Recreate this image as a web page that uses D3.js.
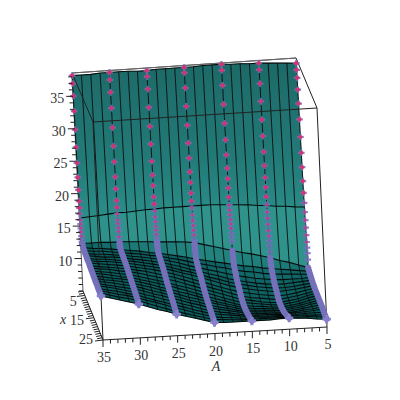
<!DOCTYPE html>
<html>
<head>
<meta charset="utf-8">
<style>
  html, body { margin: 0; padding: 0; background: #fff; }
  text { font-family: "Liberation Serif", serif; fill: #333; }
</style>
<script src="https://cdn.jsdelivr.net/npm/d3@7"></script>
</head>
<body>
<div id="chart"></div>
<script>
// Surface grid lines
const aGrid = [35, 33.75, 32.5, 31.25, 30, 28.75, 27.5, 26.25, 25, 23.75, 22.5, 21.25, 20, 18.75, 17.5, 16.25, 15, 13.75, 12.5, 11.25, 10, 8.75, 7.5, 6.25, 5];
const xGrid = [3, 4, 5, 6, 7, 8, 9, 10, 11, 12, 13, 14, 15, 16, 17, 18, 19, 20, 21, 22, 23, 24, 25];

// Surface heights, one row per xGrid value, one column per aGrid value
const zRows = [
  [38.2,38.2,38.2,38.3,38.3,38.3,38.3,38.2,38.2,38.3,38.3,38.3,38.3,38.3,38.4,38.4,38.4,38.3,38.3,38.2,38.2,38.1,38,37.9,37.8],
  [16.6,16.7,16.8,16.9,17,17,17.1,17.2,17.2,17.3,17.3,17.3,17.3,17.3,17.3,17.2,17.1,17,16.9,16.7,16.6,16.4,16.3,16.1,16],
  [13,13,13,12.9,12.9,12.8,12.7,12.6,12.5,12.4,12.3,12.2,12,11.6,11.2,10.8,10.4,10,9.7,9.3,8.9,8.4,8,7.5,7],
  [12.7,12.5,12.4,12.2,12,11.8,11.6,11.3,11.1,10.8,10.5,10.2,9.8,9.5,9.2,8.9,8.6,8.3,8.1,7.8,7.6,7.4,7.2,7,6.8],
  [12.6,12.4,12.3,12.1,11.9,11.7,11.5,11.2,11,10.6,10.3,9.9,9.5,9.2,8.8,8.5,8.1,7.8,7.6,7.3,7.1,7,6.9,6.8,6.7],
  [12.5,12.3,12.2,12,11.85,11.6,11.4,11.1,10.85,10.5,10.1,9.6,9.2,8.8,8.4,8,7.6,7.3,7,6.8,6.6,6.5,6.5,6.5,6.6],
  [12.5,12.3,12.1,12,11.8,11.5,11.3,11,10.7,10.3,9.9,9.4,9,8.5,8.1,7.6,7.2,6.9,6.6,6.4,6.2,6.2,6.3,6.4,6.5],
  [12.4,12.2,12.1,11.9,11.7,11.5,11.2,10.9,10.6,10.2,9.7,9.3,8.8,8.3,7.9,7.4,7,6.7,6.4,6.2,6,6,6.1,6.3,6.4],
  [12.4,12.2,12.1,11.9,11.7,11.4,11.1,10.8,10.5,10.1,9.6,9.2,8.7,8.2,7.7,7.2,6.8,6.5,6.2,6,5.8,5.9,6,6.2,6.4],
  [12.4,12.2,12,11.8,11.6,11.3,11,10.7,10.3,9.9,9.4,8.9,8.4,7.9,7.4,6.9,6.5,6.2,5.9,5.7,5.5,5.6,5.8,6.1,6.3],
  [12.3,12.1,11.9,11.7,11.5,11.2,10.9,10.5,10.1,9.7,9.2,8.7,8.2,7.7,7.2,6.7,6.2,5.9,5.7,5.5,5.3,5.5,5.7,6,6.3],
  [12.3,12.1,11.9,11.6,11.4,11.1,10.7,10.3,9.9,9.5,9,8.5,8,7.5,7,6.5,6,5.8,5.5,5.3,5.2,5.4,5.6,6,6.3],
  [12.2,12,11.8,11.5,11.3,10.9,10.5,10.1,9.7,9.2,8.8,8.3,7.8,7.3,6.8,6.3,5.9,5.7,5.5,5.3,5.2,5.4,5.6,6,6.3],
  [12.2,12,11.7,11.4,11.2,10.8,10.4,10,9.6,9.1,8.6,8.1,7.6,7.1,6.7,6.2,5.8,5.6,5.5,5.3,5.2,5.4,5.6,6,6.3],
  [12.1,11.9,11.6,11.4,11.1,10.7,10.3,9.8,9.4,8.9,8.5,8,7.5,7,6.6,6.2,5.8,5.6,5.5,5.4,5.3,5.5,5.7,6,6.3],
  [12.1,11.8,11.6,11.3,11,10.6,10.2,9.7,9.3,8.8,8.3,7.9,7.4,7,6.6,6.2,5.8,5.7,5.6,5.5,5.4,5.6,5.8,6.1,6.3],
  [12,11.8,11.5,11.2,10.9,10.5,10,9.6,9.1,8.7,8.2,7.8,7.3,6.9,6.6,6.2,5.9,5.8,5.7,5.6,5.5,5.7,5.9,6.1,6.3],
  [12,11.7,11.4,11.1,10.8,10.4,9.9,9.5,9,8.6,8.1,7.7,7.2,6.9,6.6,6.3,6,5.9,5.8,5.8,5.7,5.8,6,6.1,6.3],
  [12,11.7,11.4,11,10.7,10.2,9.8,9.3,8.9,8.4,8,7.5,7.1,6.8,6.6,6.3,6.1,6,6,5.9,5.9,6,6.1,6.2,6.3],
  [11.9,11.6,11.3,10.9,10.6,10.1,9.6,9.2,8.7,8.3,7.8,7.4,7,6.8,6.6,6.4,6.2,6.2,6.1,6.1,6.1,6.1,6.2,6.2,6.2],
  [11.9,11.6,11.2,10.9,10.5,10,9.6,9.1,8.6,8.2,7.7,7.3,6.9,6.7,6.6,6.4,6.3,6.3,6.3,6.3,6.3,6.3,6.3,6.2,6.2],
  [11.9,11.5,11.1,10.8,10.4,9.9,9.4,8.9,8.4,8,7.6,7.2,6.8,6.7,6.6,6.5,6.5,6.5,6.5,6.5,6.5,6.4,6.4,6.3,6.2],
  [11.8,11.4,11,10.6,10.2,9.7,9.2,8.8,8.3,7.9,7.5,7.1,6.7,6.6,6.6,6.6,6.6,6.6,6.6,6.7,6.7,6.6,6.5,6.3,6.2]
];

// Point series along the steep part, one per value of A
const curveA = [35, 30, 25, 20, 15, 10, 5];
const stemX = [3, 3.08, 3.17, 3.25, 3.33, 3.42, 3.5, 3.58, 3.67, 3.75, 3.83, 3.92, 4, 4.14, 4.29, 4.43, 4.57, 4.71, 4.86, 5];
const stemZ35 = [38.2,37,35.1,32.8,30,27.3,24.9,22.7,20.8,19.1,18.1,17.2,16.3,15.7,15.1,14.6,14,13.6,13.2,12.9];
const stemZ30 = [38.3,37.2,35.3,32.9,29.9,27.1,24.7,22.4,20.6,18.8,17.8,16.8,15.9,15.4,14.8,14.3,13.5,13,12.4,11.95];
const stemZ25 = [38.2,37.3,35.4,32.6,29.7,27,24.4,22.3,20.7,19,17.9,16.9,16,15.3,14.6,14.1,13.5,13,12.5,12];
const stemZ20 = [38.3,37.5,35.2,32.4,29.5,26.8,24.5,22.4,20.8,19.2,18,17,15.9,15.1,14.4,13.7,13,12.3,11.7,10.8];
const stemZ15 = [38.4,37.5,35.2,32.3,29.4,26.9,24.6,22.6,21,19.6,18.2,17,16.3,15.6,14.9,14.3,13.7,13,12.4,11.8];
const stemZ10 = [38.2,37.2,35.1,32.4,29.6,27.1,24.7,22.6,20.8,19.3,17.9,16.7,15.6,14.7,13.8,12.9,12.1,11.4,10.7,9.85];
const stemZ5 = [37.8,36.8,35.6,33.8,31.7,29.3,26.6,24.2,22,19.9,18.1,16.6,15.2,14,12.9,11.8,10.8,10,9.2,8.25];
const stems = [stemZ35, stemZ30, stemZ25, stemZ20, stemZ15, stemZ10, stemZ5];

// Axis labels
const aLabels = [35, 30, 25, 20, 15, 10, 5];
const xLabels = [5, 15, 25];
const zLabels = [10, 15, 20, 25, 30, 35];

const svg = d3.select("#chart").append("svg")
    .attr("width", 400)
    .attr("height", 400)
    .style("display", "block");

// Scales from data to box fractions
const aScale = d3.scaleLinear().domain([35, 5]).range([0, 1]);
const xScale = d3.scaleLinear().domain([3, 25]).range([0, 1]);
const zScale = d3.scaleLinear().domain([5, 38.6]).range([0, 1]);

// Box corners on screen: bl = back left, fr = front right, b/t = bottom/top
const box = {
    blb: [83, 291], brb: [307, 276], flb: [103, 340], frb: [327, 327],
    blt: [72, 73], brt: [296, 58], flt: [93, 122], frt: [317, 108]
};
const mix = (p, q, t) => [p[0] + (q[0] - p[0]) * t, p[1] + (q[1] - p[1]) * t];

function project(a, x, z) {
    const u = aScale(a), v = xScale(x), w = zScale(z);
    const bottom = mix(mix(box.blb, box.brb, u), mix(box.flb, box.frb, u), v);
    const top = mix(mix(box.blt, box.brt, u), mix(box.flt, box.frt, u), v);
    return mix(bottom, top, w);
}

const line = d3.line();
const smooth = d3.line().curve(d3.curveCatmullRom);

// Back edges of the box
const edges = svg.append("g").attr("fill", "none").attr("stroke", "#555").attr("stroke-width", 1);
[[box.blt, box.brt], [box.blb, box.blt]].forEach(e => edges.append("path").attr("d", line(e)));

// Wall gradient
const defs = svg.append("defs");
const wall = defs.append("linearGradient").attr("id", "wall")
    .attr("gradientUnits", "userSpaceOnUse")
    .attr("x1", 0).attr("y1", 70).attr("x2", 0).attr("y2", 215);
wall.append("stop").attr("offset", 0).attr("stop-color", "#1d6b69");
wall.append("stop").attr("offset", 0.6).attr("stop-color", "#227a77");
wall.append("stop").attr("offset", 1).attr("stop-color", "#2b8d88");

// Cell colour from how steeply the surface falls in x
const shade = d3.scaleLinear()
    .domain([0, 0.3, 1, 4])
    .range(["#0b5c5d", "#0d6262", "#1c7a76", "#2f938c"])
    .clamp(true);

// Surface cells, back to front
const cells = svg.append("g");
xGrid.slice(0, -1).forEach((x, i) => {
    aGrid.slice(0, -1).forEach((a, j) => {
        const poly = [
            project(a, x, zRows[i][j]),
            project(aGrid[j + 1], x, zRows[i][j + 1]),
            project(aGrid[j + 1], xGrid[i + 1], zRows[i + 1][j + 1]),
            project(a, xGrid[i + 1], zRows[i + 1][j])
        ];
        const drop = Math.abs(zRows[i][j] - zRows[i + 1][j]);
        const fill = i === 0 ? "url(#wall)" : shade(drop);
        cells.append("path")
            .attr("d", line(poly) + "Z")
            .attr("fill", fill)
            .attr("stroke", fill)
            .attr("stroke-width", 0.5);
    });
});

// Mesh lines
const mesh = svg.append("g").attr("fill", "none").attr("stroke", "#050a0b");
aGrid.forEach((a, j) => {
    mesh.append("path").attr("stroke-width", 0.9).attr("d", line(xGrid.map((x, i) => project(a, x, zRows[i][j]))));
});
xGrid.forEach((x, i) => {
    mesh.append("path").attr("stroke-width", 1.1).attr("d", line(aGrid.map((a, j) => project(a, x, zRows[i][j]))));
});

// Front edges of the box
const front = svg.append("g").attr("fill", "none").attr("stroke", "#222").attr("stroke-width", 1);
[[box.blt, box.flt], [box.flt, box.frt], [box.brt, box.frt], [box.frt, box.frb], [box.flt, box.flb], [box.flb, box.frb], [box.blb, box.flb]]
    .forEach(e => front.append("path").attr("d", line(e)));
svg.append("path").attr("d", line([box.blt, box.brt])).attr("stroke", "#666").attr("stroke-width", 1).attr("fill", "none");

// Point series
const purple = "#7570ba", pink = "#d8326e";
const cross = d3.symbol().type(d3.symbolCross);
curveA.forEach((a, k) => {
    const g = svg.append("g");
    const col = aGrid.indexOf(a);
    // dense lower part of the series, runs on to the front edge
    const lower = xGrid.slice(2).map((x, i) => project(a, x, zRows[i + 2][col]));
    g.append("path")
        .attr("d", smooth(lower))
        .attr("fill", "none")
        .attr("stroke", purple)
        .attr("stroke-width", 6)
        .attr("stroke-linecap", "round");
    const end = lower[lower.length - 1];
    g.append("path")
        .attr("d", cross.size(40)())
        .attr("transform", `translate(${end[0]},${end[1]})`)
        .attr("fill", "#8780cc");
    const stem = stemX.map((x, i) => project(a, x, stems[k][i]));
    stem.forEach(p => {
        g.append("path")
            .attr("d", cross.size(16)())
            .attr("transform", `translate(${p[0]},${p[1]}) scale(1.25)`)
            .attr("fill", purple)
            .attr("opacity", 0.85);
    });
    stem.forEach((p, i) => {
        if (i > 16) return;
        g.append("circle")
            .attr("cx", p[0]).attr("cy", p[1])
            .attr("r", i > 10 ? 1.2 : 2.1)
            .attr("fill", pink);
    });
});

// Ticks drawn along each box edge, every one unit
const axes = svg.append("g").attr("stroke", "#222").attr("stroke-width", 1);
const labels = svg.append("g").attr("font-size", 14);

aScale.ticks(30).forEach(t => {
    const p = project(t, 25, 5), major = aLabels.includes(t);
    axes.append("path").attr("d", line([p, [p[0], p[1] + (major ? 7 : 4)]]));
});
aLabels.forEach(t => {
    const p = project(t, 25, 5);
    labels.append("text").attr("x", p[0] + 1).attr("y", p[1] + 22).attr("text-anchor", "middle").text(t);
});

xScale.ticks(22).forEach(t => {
    const p = project(35, t, 5), major = xLabels.includes(t);
    axes.append("path").attr("d", line([p, [p[0] - (major ? 8 : 5), p[1] + 1]]));
});
// labels drift from the axis towards its far end
xLabels.forEach(t => {
    const p = project(35, t, 5);
    labels.append("text")
        .attr("x", p[0] - (t === 5 ? 8 : 10))
        .attr("y", p[1] + 11 - (t - 5) * 0.35)
        .attr("text-anchor", "end")
        .text(t);
});

zScale.ticks(33).forEach(t => {
    const p = project(35, 3, t), major = zLabels.includes(t);
    axes.append("path").attr("d", line([p, [p[0] - (major ? 7 : 4), p[1]]]));
});
zLabels.forEach(t => {
    const p = project(35, 3, t);
    labels.append("text").attr("x", p[0] - 9).attr("y", p[1] + 7).attr("text-anchor", "end").text(t);
});

labels.append("text").attr("x", 216).attr("y", 371).attr("text-anchor", "middle").attr("font-style", "italic").text("A");
labels.append("text").attr("x", 63).attr("y", 324).attr("text-anchor", "middle").attr("font-style", "italic").text("x");
</script>
</body>
</html>
